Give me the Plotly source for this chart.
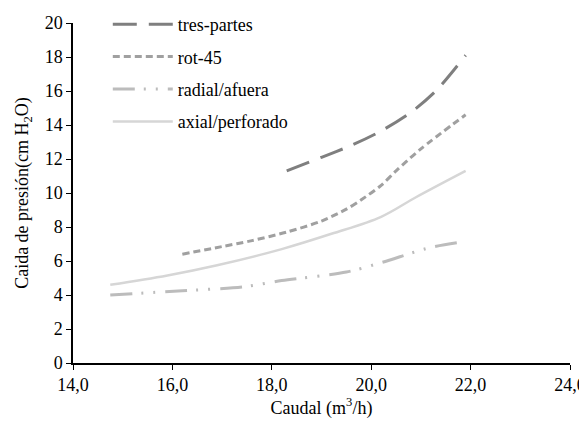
import plotly.graph_objects as go

# Data
tres_x = [18.3, 19.0, 19.6, 20.2, 20.8, 21.3, 21.9]
tres_y = [11.3, 12.1, 12.8, 13.65, 14.75, 16.0, 18.1]

rot_x = [16.2, 17.0, 17.6, 18.3, 19.0, 19.5, 19.8, 20.2, 20.5, 21.0, 21.9]
rot_y = [6.4, 6.85, 7.2, 7.7, 8.35, 9.05, 9.6, 10.45, 11.3, 12.6, 14.6]

rad_x = [14.75, 16.2, 17.4, 18.2, 19.5, 20.2, 21.2, 21.9]
rad_y = [4.0, 4.25, 4.47, 4.85, 5.35, 5.9, 6.8, 7.15]

axi_x = [14.75, 15.9, 16.9, 18.2, 19.2, 20.2, 20.9, 21.9]
axi_y = [4.6, 5.15, 5.75, 6.7, 7.6, 8.6, 9.75, 11.3]

names = ["tres-partes", "rot-45", "radial/afuera", "axial/perforado"]

FONT = "Times New Roman, Liberation Serif, serif"

fig = go.Figure()
fig.add_trace(go.Scatter(x=tres_x, y=tres_y, name=names[0], mode="lines",
                         line=dict(color="#7f7f7f", width=3, dash="24px,12px", shape="spline", smoothing=0.8),
                         legendgroup="a"))
fig.add_trace(go.Scatter(x=rot_x, y=rot_y, name=names[1], mode="lines",
                         line=dict(color="#a0a0a0", width=3, dash="7px,4px", shape="spline", smoothing=0.8),
                         legendgroup="b"))
fig.add_trace(go.Scatter(x=rad_x, y=rad_y, name=names[2], mode="lines",
                         line=dict(color="#bcbcbc", width=3, dash="22px,9px,2px,10px,2px,10px", shape="spline", smoothing=0.8),
                         legendgroup="c"))
fig.add_trace(go.Scatter(x=axi_x, y=axi_y, name=names[3], mode="lines",
                         line=dict(color="#d6d6d6", width=2.5, shape="spline", smoothing=1.0),
                         legendgroup="d"))

# page body has an 8px default margin, so the figure is drawn 8px in from the top-left
fig.update_layout(
    width=579, height=413,
    margin=dict(l=65, r=17, t=15, b=58, autoexpand=False),
    paper_bgcolor="white", plot_bgcolor="white",
    separators=",.",
    font=dict(family=FONT, size=18, color="black"),
    showlegend=True,
    legend=dict(x=0.07, y=1.05, xanchor="left", yanchor="top",
                bgcolor="rgba(0,0,0,0)", font=dict(family=FONT, size=18),
                tracegroupgap=6, itemwidth=60),
    xaxis=dict(range=[14, 24], dtick=2, tick0=14, tickformat=".1f", automargin=False,
               showgrid=False, zeroline=False, showline=True, linecolor="black", linewidth=1.5,
               ticks="outside", ticklen=5, tickcolor="black",
               tickfont=dict(family=FONT, size=18),
               title=dict(text="Caudal (m<sup>3</sup>/h)", font=dict(family=FONT, size=18), standoff=4)),
    yaxis=dict(range=[0, 20], dtick=2, tick0=0, automargin=False,
               showgrid=False, zeroline=False, showline=True, linecolor="black", linewidth=1.5,
               ticks="outside", ticklen=5, tickcolor="black",
               tickfont=dict(family=FONT, size=18),
               title=dict(text="Caida de presión(cm H<sub>2</sub>O)", font=dict(family=FONT, size=18), standoff=11)),
)

fig.write_html("out.html")
